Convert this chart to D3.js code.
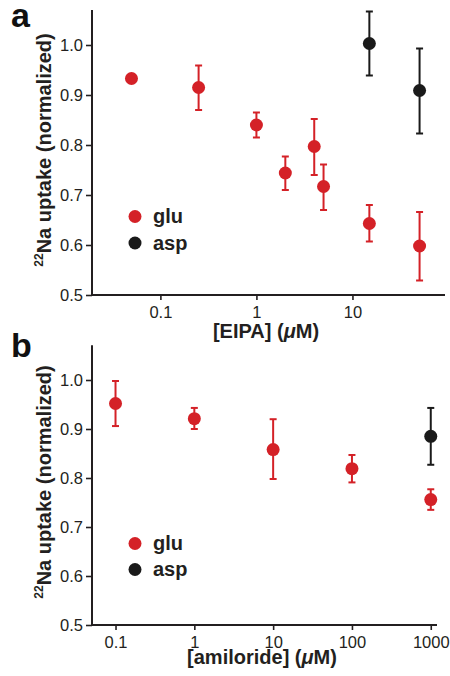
<!DOCTYPE html>
<html>
<head>
<meta charset="utf-8">
<script src="https://cdnjs.cloudflare.com/ajax/libs/d3/7.8.5/d3.min.js"></script>
<style>
  body { margin: 0; background: #fff; }
  svg { font-family: "Liberation Sans", Arial, Helvetica, sans-serif; }
  .tick text { fill: #231f20; }
</style>
</head>
<body>
<div id="chart"></div>
<script>
// ====== panel a: EIPA ======
let eipaGluDose = [0.05, 0.25, 1, 2, 4, 5, 15, 50];
let eipaGluMean = [0.933, 0.915, 0.840, 0.744, 0.797, 0.717, 0.643, 0.598];
let eipaGluLo   = [0.928, 0.870, 0.815, 0.710, 0.740, 0.670, 0.607, 0.529];
let eipaGluHi   = [0.938, 0.959, 0.865, 0.777, 0.852, 0.761, 0.680, 0.666];

let eipaAspDose = [15, 50];
let eipaAspMean = [1.003, 0.909];
let eipaAspLo   = [0.939, 0.823];
let eipaAspHi   = [1.067, 0.993];

// ====== panel b: amiloride ======
let amiGluDose = [0.1, 1, 10, 100, 1000];
let amiGluMean = [0.952, 0.921, 0.858, 0.819, 0.756];
let amiGluLo   = [0.906, 0.900, 0.798, 0.791, 0.735];
let amiGluHi   = [0.998, 0.943, 0.920, 0.847, 0.777];

let amiAspDose = [1000];
let amiAspMean = [0.885];
let amiAspLo   = [0.827];
let amiAspHi   = [0.943];

let yTicks = [0.5, 0.6, 0.7, 0.8, 0.9, 1.0];
let eipaTicks = [0.1, 1, 10];
let amiTicks = [0.1, 1, 10, 100, 1000];
let seriesNames = ["glu", "asp"];

let red = "#d42127", black = "#1a1a1a", axisColor = "#231f20";

let svg = d3.select("#chart").append("svg")
    .attr("width", 450)
    .attr("height", 676);

// builds one panel
function buildPanel(opts) {
    let x = d3.scaleLog().domain(opts.xDomain).range([92, opts.xRight]);
    let y = d3.scaleLinear().domain([0.5, 1.0]).range([opts.yBottom, opts.y1]);
    let yTop = y(opts.yMax);

    let g = svg.append("g");

    // y axis
    let yAxis = g.append("g")
        .attr("transform", "translate(92,0)")
        .call(d3.axisLeft(y).tickValues(yTicks).tickFormat(d3.format(".1f")).tickSize(6).tickSizeOuter(0));
    yAxis.select(".domain").remove();
    g.append("line")
        .attr("x1", 92).attr("x2", 92)
        .attr("y1", yTop).attr("y2", opts.yBottom)
        .attr("stroke", axisColor).attr("stroke-width", 2);
    yAxis.selectAll(".tick line").attr("stroke", axisColor).attr("stroke-width", 1.6);
    yAxis.selectAll(".tick text").attr("font-size", 16.5).attr("x", -9);

    // x axis
    let xAxis = g.append("g")
        .attr("transform", "translate(0," + opts.yBottom + ")")
        .call(d3.axisBottom(x).tickValues(opts.xTicks).tickFormat(d3.format("~g")).tickSize(5).tickSizeOuter(0));
    xAxis.select(".domain").remove();
    g.append("line")
        .attr("x1", 91).attr("x2", opts.xRight)
        .attr("y1", opts.yBottom).attr("y2", opts.yBottom)
        .attr("stroke", axisColor).attr("stroke-width", 2);
    xAxis.selectAll(".tick line").attr("stroke", axisColor).attr("stroke-width", 1.6);
    xAxis.selectAll(".tick text").attr("font-size", 16.5).attr("dy", "0.9em");

    // error bars and points
    opts.series.forEach(function(s) {
        let data = s.dose.map(function(d, i) {
            return { dose: d, mean: s.mean[i], lo: s.lo[i], hi: s.hi[i] };
        });
        let eb = g.append("g").attr("stroke", s.color).attr("stroke-width", 2);
        eb.selectAll(".stem").data(data).enter().append("line")
            .attr("x1", function(d) { return x(d.dose); })
            .attr("x2", function(d) { return x(d.dose); })
            .attr("y1", function(d) { return y(d.lo); })
            .attr("y2", function(d) { return y(d.hi); });
        eb.selectAll(".capHi").data(data).enter().append("line")
            .attr("x1", function(d) { return x(d.dose) - 3.5; })
            .attr("x2", function(d) { return x(d.dose) + 3.5; })
            .attr("y1", function(d) { return y(d.hi); })
            .attr("y2", function(d) { return y(d.hi); });
        eb.selectAll(".capLo").data(data).enter().append("line")
            .attr("x1", function(d) { return x(d.dose) - 3.5; })
            .attr("x2", function(d) { return x(d.dose) + 3.5; })
            .attr("y1", function(d) { return y(d.lo); })
            .attr("y2", function(d) { return y(d.lo); });
        g.selectAll(null).data(data).enter().append("circle")
            .attr("cx", function(d) { return x(d.dose); })
            .attr("cy", function(d) { return y(d.mean); })
            .attr("r", 6.5)
            .attr("fill", s.color);
    });

    // legend
    seriesNames.forEach(function(name, i) {
        g.append("circle")
            .attr("cx", 135).attr("cy", opts.legendY + i * opts.legendStep)
            .attr("r", 6.5).attr("fill", i === 0 ? red : black);
        g.append("text")
            .attr("x", 153).attr("y", opts.legendY + i * opts.legendStep)
            .attr("dy", "0.33em")
            .attr("font-size", 20).attr("font-weight", "bold")
            .attr("fill", axisColor)
            .text(name);
    });

    // y label
    let yl = g.append("text")
        .attr("transform", "translate(51," + opts.yLabelMid + ") rotate(-90)")
        .attr("text-anchor", "middle")
        .attr("font-weight", "bold")
        .attr("font-size", 20)
        .attr("fill", axisColor);
    yl.append("tspan").attr("font-size", 12).attr("dy", -8).text("22");
    yl.append("tspan").attr("dy", 8).text("Na uptake (normalized)");

    // x label
    let xl = g.append("text")
        .attr("x", opts.xLabelMid).attr("y", opts.xLabelY)
        .attr("text-anchor", "middle")
        .attr("font-weight", "bold")
        .attr("font-size", 20)
        .attr("fill", axisColor);
    xl.append("tspan").text(opts.xLabel + " (");
    xl.append("tspan").attr("font-style", "italic").text("\u03bc");
    xl.append("tspan").text("M)");

    // panel letter
    g.append("text")
        .attr("x", 11).attr("y", opts.letterY)
        .attr("font-weight", "bold").attr("font-size", 34)
        .attr("fill", "#111")
        .text(opts.letter);
}

buildPanel({
    xDomain: [0.0194, 92], xRight: 445, xTicks: eipaTicks,
    y1: 45, yBottom: 295, yMax: 1.07,
    series: [
        { dose: eipaGluDose, mean: eipaGluMean, lo: eipaGluLo, hi: eipaGluHi, color: red },
        { dose: eipaAspDose, mean: eipaAspMean, lo: eipaAspLo, hi: eipaAspHi, color: black }
    ],
    legendY: 216.5, legendStep: 26.5,
    yLabelMid: 150, xLabelMid: 266, xLabelY: 338, xLabel: "[EIPA]",
    letter: "a", letterY: 27
});

buildPanel({
    xDomain: [0.0503, 1200], xRight: 437, xTicks: amiTicks,
    y1: 380, yBottom: 625, yMax: 1.071,
    series: [
        { dose: amiGluDose, mean: amiGluMean, lo: amiGluLo, hi: amiGluHi, color: red },
        { dose: amiAspDose, mean: amiAspMean, lo: amiAspLo, hi: amiAspHi, color: black }
    ],
    legendY: 543.5, legendStep: 26,
    yLabelMid: 482, xLabelMid: 262, xLabelY: 664, xLabel: "[amiloride]",
    letter: "b", letterY: 357
});
</script>
</body>
</html>
